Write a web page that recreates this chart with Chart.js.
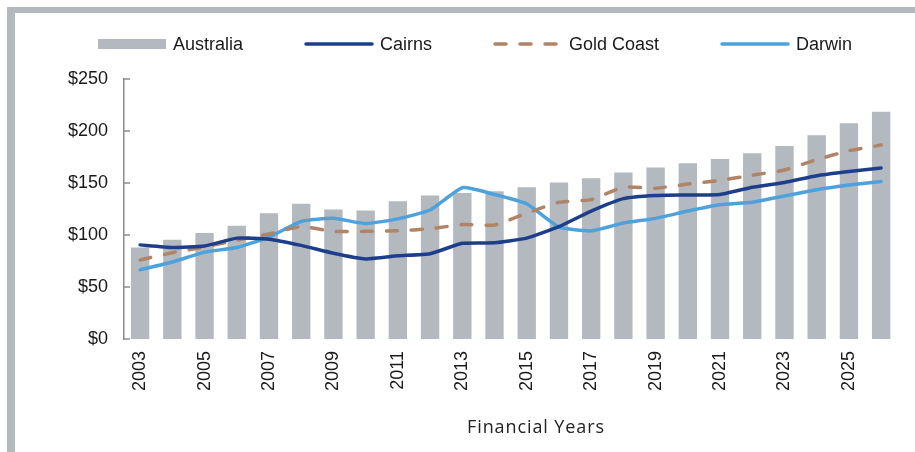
<!DOCTYPE html>
<html>
<head>
<meta charset="utf-8">
<script src="https://cdn.jsdelivr.net/npm/chart.js@4/dist/chart.umd.min.js"></script>
<style>
  body { margin: 0; width: 915px; height: 452px; position: relative; overflow: hidden; background: #fff; }
  .frame { position: absolute; background: #b3b9bf; }
  #wrap { position: absolute; left: 15px; top: 13px; width: 900px; height: 439px; }
  #legend { position: absolute; left: 98px; top: 35px; height: 18px; display: flex; align-items: center;
            font-family: 'Liberation Sans', Arial, sans-serif; font-size: 18px; color: #1a1a1a; white-space: nowrap; }
  .item { display: flex; align-items: center; margin-right: 61px; }
  .item svg { margin-right: 6px; }
  #xtitle { position: absolute; left: 436px; width: 200px; top: 414px; line-height: 24px; text-align: center;
            font-family: 'Open Sans', sans-serif; font-size: 18px; letter-spacing: 0.9px; color: #222; }
</style>
</head>
<body>
<div class="frame" style="left:7px;top:7px;right:0;height:6px"></div>
<div class="frame" style="left:7px;top:7px;width:8px;bottom:0"></div>
<div id="wrap"><canvas id="priceChart"></canvas></div>
<div id="legend"></div>
<div id="xtitle">Financial Years</div>
<script>
const years = ['2003', '2004', '2005', '2006', '2007', '2008', '2009', '2010', '2011', '2012', '2013', '2014',
               '2015', '2016', '2017', '2018', '2019', '2020', '2021', '2022', '2023', '2024', '2025', '2026'];
const yearTicks = ['2003', '2005', '2007', '2009', '2011', '2013', '2015', '2017', '2019', '2021', '2023', '2025'];
const valueTicks = [0, 50, 100, 150, 200, 250];

const australia = [88, 95.5, 102, 109, 121, 130, 124.5, 123.5, 132.5, 138, 140.5, 142,
                   146, 150.5, 154.5, 160, 165, 169, 173, 178.5, 185.5, 196, 207.5, 218.5];
const cairns = [90.5, 88, 89.5, 97, 96, 90, 82.5, 77, 80, 82, 92, 92.5,
                97, 108, 123, 135, 138, 138.5, 139, 146, 150.5, 157, 161, 164.5];
const goldCoast = [76, 83, 88.5, 95, 101, 108, 103.5, 103.5, 104, 106, 110, 109.5,
                   121, 131.5, 134, 146, 145, 149, 152.5, 157.5, 162.5, 172.5, 181, 186.5];
const darwin = [66.5, 74, 83.5, 88, 98, 113, 116, 111, 115.5, 124, 145.5, 139,
                130, 107.5, 104, 111.5, 116, 123, 129, 131.5, 137.5, 143.5, 148, 151.5];

const tickFont = { family: "'Liberation Sans', Arial, sans-serif", size: 18 };
const axisGrey = '#8c8c8c';

// small tick marks pointing into the plot, like the original
const innerTicks = {
    id: 'innerTicks',
    afterDraw(chart) {
        const y = chart.scales.y;
        const ctx = chart.ctx;
        const x0 = chart.chartArea.left;
        ctx.save();
        ctx.strokeStyle = axisGrey;
        ctx.lineWidth = 1.5;
        y.ticks.forEach((t, i) => {
            const py = y.getPixelForTick(i);
            ctx.beginPath();
            ctx.moveTo(x0, py);
            ctx.lineTo(x0 + 6, py);
            ctx.stroke();
        });
        ctx.restore();
    }
};

const lineStyle = { type: 'line', borderWidth: 3.5, pointRadius: 0, tension: 0.15, fill: false, order: 1,
                    borderCapStyle: 'round', borderJoinStyle: 'round' };

const ctx = document.getElementById('priceChart').getContext('2d');
const priceChart = new Chart(ctx, {
    data: {
        labels: years,
        datasets: [
            { type: 'bar', label: 'Australia', data: australia, backgroundColor: '#b3b9bf', order: 10,
              barPercentage: 0.57, categoryPercentage: 1 },
            { ...lineStyle, label: 'Cairns', data: cairns, borderColor: '#1d3f8b' },
            { ...lineStyle, label: 'Gold Coast', data: goldCoast, borderColor: '#b08466', borderDash: [11, 14] },
            { ...lineStyle, label: 'Darwin', data: darwin, borderColor: '#4ea2dc' }
        ]
    },
    options: {
        responsive: true,
        maintainAspectRatio: false,
        animation: false,
        layout: { padding: { top: 66, right: 13, left: 0, bottom: 0 } },
        plugins: {
            legend: { display: false },
            tooltip: { enabled: false }
        },
        scales: {
            x: {
                offset: true,
                grid: { display: false, drawTicks: false },
                border: { display: false },
                ticks: {
                    autoSkip: false,
                    minRotation: 90,
                    maxRotation: 90,
                    padding: 12,
                    color: '#1a1a1a',
                    font: tickFont,
                    callback: function (v, i) {
                        const lab = years[i];
                        return yearTicks.includes(lab) ? lab : '';
                    }
                },
                afterFit: (scale) => { scale.height = 113; }
            },
            y: {
                min: 0,
                max: 250,
                grid: { display: false, drawTicks: false },
                border: { display: true, color: axisGrey, width: 1.5 },
                ticks: {
                    padding: 16,
                    color: '#1a1a1a',
                    font: tickFont,
                    callback: (v) => '$' + v
                },
                afterBuildTicks: (scale) => { scale.ticks = valueTicks.map(v => ({ value: v })); },
                afterFit: (scale) => { scale.width = 109; }
            }
        }
    },
    plugins: [innerTicks]
});

// legend built from the chart's datasets
const legendDiv = document.getElementById('legend');
priceChart.data.datasets.forEach(ds => {
    const item = document.createElement('div');
    item.className = 'item';
    let swatch;
    if (ds.type === 'bar') {
        swatch = `<svg width="69" height="12"><rect x="0" y="1" width="68" height="10" fill="${ds.backgroundColor}"/></svg>`;
    } else {
        const dash = ds.borderDash ? `stroke-dasharray="${ds.borderDash.join(' ')}"` : '';
        swatch = `<svg width="70" height="12"><line x1="2" y1="6" x2="68" y2="6" stroke="${ds.borderColor}" stroke-width="3.5" stroke-linecap="round" ${dash}/></svg>`;
    }
    item.innerHTML = swatch + `<span>${ds.label}</span>`;
    legendDiv.appendChild(item);
});
</script>
</body>
</html>
